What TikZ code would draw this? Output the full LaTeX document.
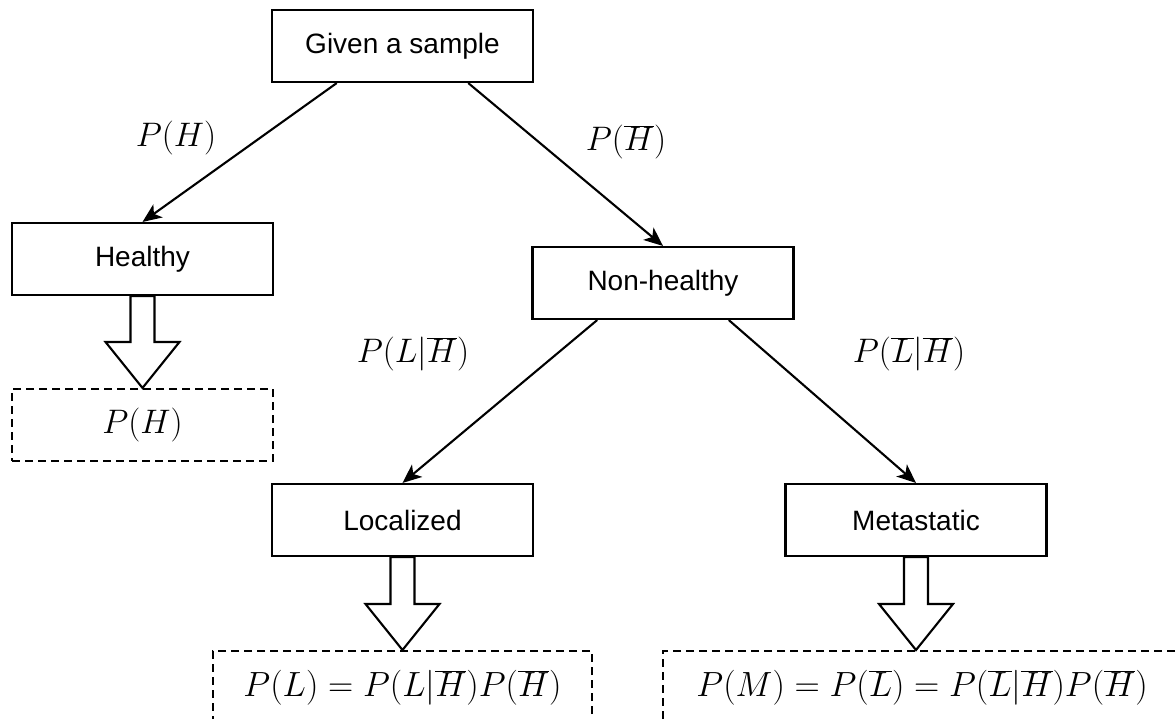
\RequirePackage{fix-cm}
\documentclass[tikz,border=0pt]{standalone}
\usepackage{fontspec}
\setmainfont{Liberation Sans}
\usetikzlibrary{arrows.meta,calc}
\tikzset{
  box/.style={draw, line width=2.1pt, minimum width=261pt, minimum height=72pt, inner sep=0pt, font=\fontsize{28}{33}\selectfont},
  resbox/.style={draw, line width=2.1pt, dash pattern=on 8pt off 5pt, minimum height=74pt, inner sep=0pt, font=\fontsize{35}{41}\selectfont},
  lbl/.style={inner sep=0pt, font=\fontsize{34}{40}\selectfont},
  conn/.style={line width=2.1pt, -{Stealth[length=19pt,width=16pt,inset=5pt]}},
  hollow/.style={draw, line width=2.1pt, fill=white, line join=miter}
}
\begin{document}
\begin{tikzpicture}[x=1pt,y=-1pt]
\useasboundingbox (0,0) rectangle (1176,718);
\clip (0,0) rectangle (1176,718);
\fill[white] (0,0) rectangle (1176,718);

\node[box] (top) at (402.5,46) {Given a sample};
\node[box] (healthy) at (142.5,259) {Healthy};
\node[box] (nonh) at (663,283) {Non-healthy};
\node[box] (loc) at (402.5,520) {Localized};
\node[box] (meta) at (916,520) {Metastatic};

\node[resbox, minimum width=261pt, minimum height=72pt, font=\fontsize{34}{40}\selectfont] (resH) at (142.5,425) {$P(H)$};
\node[resbox, minimum width=379pt, anchor=north] (resL) at (402.5,650) {$P(L) = P(L|\overline{H})P(\overline{H})$};
\node[resbox, minimum width=518pt, anchor=north west] (resM) at (662,650) {$P(M) = P(\overline{L}) = P(\overline{L}|\overline{H})P(\overline{H})$};

\draw[conn] ($(top.south west)!0.25!(top.south east)$) -- (healthy.north);
\draw[conn] ($(top.south west)!0.75!(top.south east)$) -- (nonh.north);
\draw[conn] ($(nonh.south west)!0.25!(nonh.south east)$) -- (loc.north);
\draw[conn] ($(nonh.south west)!0.75!(nonh.south east)$) -- (meta.north);

\node[lbl] (lH) at (176,138) {$P(H)$};
\node[lbl] (lHb) at (626,142) {$P(\overline{H})$};
\node[lbl] (lL) at (413,354) {$P(L|\overline{H})$};
\node[lbl] (lLb) at (909,354) {$P(\overline{L}|\overline{H})$};

% hollow block arrows
\foreach \src/\dst in {healthy/resH, loc/resL, meta/resM}{
  \path let \p1=(\src.south), \p2=(\dst.north) in
    coordinate (s) at (\x1,\y1) coordinate (t) at (\x1,\y2);
  \draw[hollow] ($(s)+(-12,0)$) -- ($(s)+(12,0)$) -- ($(t)+(12,-46)$) -- ($(t)+(37,-46)$)
     -- (t) -- ($(t)+(-37,-46)$) -- ($(t)+(-12,-46)$) -- cycle;
}
\end{tikzpicture}
\end{document}
